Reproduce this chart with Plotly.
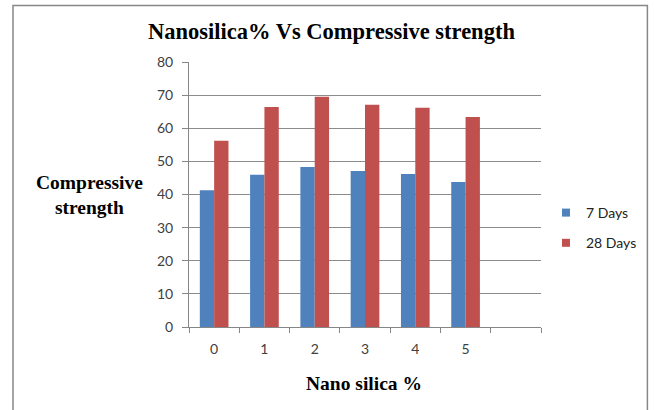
import plotly.graph_objects as go

# Nano silica content (%) and compressive strength results
categories = ["0", "1", "2", "3", "4", "5"]
days7 = [41.3, 46.0, 48.3, 47.1, 46.2, 43.8]
days28 = [56.2, 66.4, 69.5, 67.1, 66.2, 63.4]
series_names = ["7 Days", "28 Days"]
series_colors = ["#4F81BD", "#C0504D"]
y_ticks = [0, 10, 20, 30, 40, 50, 60, 70, 80]

W, H = 654, 410
L, R, T, B = 189, 111, 62, 83
pw, ph = W - L - R, H - T - B

def px_x(x):
    return (x - L) / pw

def px_y(y):
    return (H - B - y) / ph

# one extra empty slot at the end of the category axis
axis_cats = categories + [" "]

fig = go.Figure()
for vals, name, col, grp in [(days7, series_names[0], series_colors[0], "a"),
                             (days28, series_names[1], series_colors[1], "b")]:
    fig.add_trace(go.Bar(x=categories, y=vals, name=name,
                         marker=dict(color=col, line=dict(width=0)),
                         legendgroup=grp, showlegend=False))
    # small square swatch for the legend entry
    fig.add_trace(go.Scatter(x=[None], y=[None], mode="markers", name=name,
                             marker=dict(symbol="square", size=8, color=col),
                             legendgroup=grp, showlegend=True))

tick_font = dict(family="Lato, Liberation Sans, sans-serif", size=14, color="#404040")
serif_bold = "Liberation Serif, Times New Roman, serif"

fig.update_layout(
    width=W, height=H,
    margin=dict(l=L, r=R, t=T, b=B),
    paper_bgcolor="white", plot_bgcolor="white",
    barmode="group", bargap=0.43, bargroupgap=0,
    showlegend=True,
    legend=dict(x=px_x(548), y=px_y(228), xanchor="left", yanchor="middle",
                font=dict(family="Lato, Liberation Sans, sans-serif", size=14, color="#222"),
                traceorder="grouped", tracegroupgap=9,
                bgcolor="rgba(0,0,0,0)"),
    xaxis=dict(type="category", categoryorder="array", categoryarray=axis_cats,
               range=[-0.5, len(axis_cats) - 0.5],
               tickson="boundaries", ticks="outside", ticklen=5, tickcolor="#868686",
               showline=True, linecolor="#868686", linewidth=1,
               showgrid=False, tickfont=tick_font, ticklabelstandoff=9,
               fixedrange=True),
    yaxis=dict(range=[0, 80], tickvals=y_ticks, ticks="outside", ticklen=6,
               tickcolor="#868686", showline=True, linecolor="#868686", linewidth=1,
               showgrid=True, gridcolor="#8c8c8c", gridwidth=1,
               tickfont=tick_font, ticklabelstandoff=6, zeroline=False),
    shapes=[dict(type="rect", xref="paper", yref="paper",
                 x0=px_x(12), x1=px_x(650), y0=px_y(412), y1=px_y(5.5),
                 line=dict(color="#878787", width=1.5), fillcolor="rgba(0,0,0,0)",
                 layer="below")],
    annotations=[
        dict(text="<b>Nanosilica% Vs Compressive strength</b>", xref="paper", yref="paper",
             x=px_x(332), y=px_y(31), xanchor="center", yanchor="middle", showarrow=False,
             font=dict(family=serif_bold, size=22.5, color="black")),
        dict(text="<b>Compressive<br>strength</b>", xref="paper", yref="paper",
             x=px_x(89), y=px_y(195), xanchor="center", yanchor="middle", showarrow=False,
             font=dict(family=serif_bold, size=19.5, color="black")),
        dict(text="<b>Nano silica %</b>", xref="paper", yref="paper",
             x=px_x(365), y=px_y(383), xanchor="center", yanchor="middle", showarrow=False,
             font=dict(family=serif_bold, size=19.5, color="black")),
    ],
)

fig.write_html("out.html")
